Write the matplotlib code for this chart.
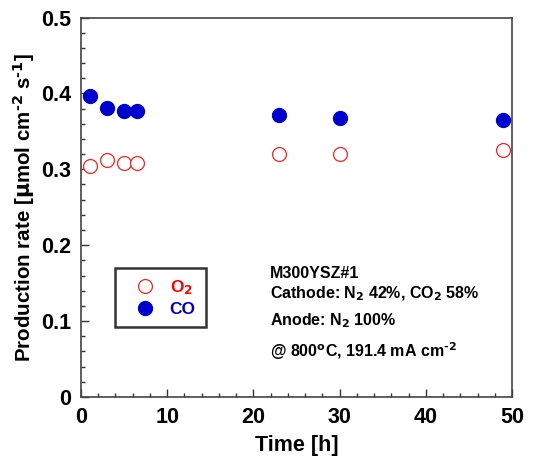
import matplotlib
matplotlib.use("Agg")
import matplotlib.pyplot as plt
from matplotlib.ticker import MultipleLocator
from matplotlib.lines import Line2D

plt.rcParams['font.family'] = ['Liberation Sans', 'DejaVu Sans']
plt.rcParams['font.weight'] = 'bold'
plt.rcParams['mathtext.default'] = 'regular'
plt.rcParams['axes.unicode_minus'] = False

time_o2 = [1, 3, 5, 6.5, 23, 30, 49]
o2_rate = [0.304, 0.312, 0.308, 0.308, 0.320, 0.320, 0.325]
time_co = [1, 3, 5, 6.5, 23, 30, 49]
co_rate = [0.397, 0.381, 0.377, 0.377, 0.371, 0.367, 0.365]

fig = plt.figure(figsize=(5.39, 4.63), dpi=100)
ax = fig.add_axes([81/539, 1 - 397/463, (512-81)/539, (397-17.5)/463])

ax.plot(time_o2, o2_rate, 'o', ms=10, mfc='white', mec='#ff2020', mew=0.9, ls='none', zorder=3)
ax.plot(time_co, co_rate, 'o', ms=10, mfc='#0000cc', mec='#0000cc', ls='none', zorder=3)

ax.set_xlim(0, 50)
ax.set_ylim(0, 0.5)
ax.xaxis.set_major_locator(MultipleLocator(10))
ax.xaxis.set_minor_locator(MultipleLocator(2))
ax.yaxis.set_major_locator(MultipleLocator(0.1))
ax.yaxis.set_minor_locator(MultipleLocator(0.02))
ax.tick_params(which='both', direction='in', top=False, right=False, width=1, color='#333333')
ax.tick_params(which='major', length=6, labelsize=15.5, pad=7)
ax.tick_params(which='minor', length=3)
ax.set_yticks([0, 0.1, 0.2, 0.3, 0.4, 0.5])
ax.set_yticklabels(['0', '0.1', '0.2', '0.3', '0.4', '0.5'])
for lab in ax.get_xticklabels() + ax.get_yticklabels():
    lab.set_fontweight('bold')
for s in ax.spines.values():
    s.set_color('#444444')
    s.set_linewidth(1.2)

ax.set_xlabel('Time [h]', fontsize=15.5, fontweight='bold', labelpad=5)
ax.set_ylabel(r'Production rate [$\mathbf{\mu}$mol cm$^{\text{-2}}$ s$^{\text{-1}}$]',
              fontsize=14.8, fontweight='bold', labelpad=3)

# Legend
handles = [Line2D([], [], marker='o', ls='none', ms=10, mfc='white', mec='#ff2020', mew=0.9),
           Line2D([], [], marker='o', ls='none', ms=10, mfc='#0000cc', mec='#0000cc')]
leg = ax.legend(handles, [r'O$_\mathbf{2}$', 'CO'], loc='upper left',
                bbox_to_anchor=((115-81)/431, (397-268)/379.5), fontsize=12.5,
                frameon=True, fancybox=False, edgecolor='black', handletextpad=0.35,
                borderpad=0.6, labelspacing=0.25, borderaxespad=0, handlelength=2.2)
leg.get_frame().set_linewidth(1.8)
leg.get_texts()[0].set_color('#ff0000')
leg.get_texts()[1].set_color('#0000cc')
for t in leg.get_texts():
    t.set_fontweight('bold')

kw = dict(transform=ax.transData, fontsize=11.5, fontweight='bold', va='baseline', ha='left')
ax.text(21.95, 0.157, 'M300YSZ#1', **kw)
ax.text(21.95, 0.130, r'Cathode: N$_\mathbf{2}$ 42%, CO$_\mathbf{2}$ 58%', **kw)
ax.text(21.95, 0.095, r'Anode: N$_\mathbf{2}$ 100%', **kw)
ax.text(21.95, 0.053, r'@ 800$^\mathbf{o}$C, 191.4 mA cm$^{\text{-2}}$', **kw)

fig.savefig('out.png', dpi=100)
